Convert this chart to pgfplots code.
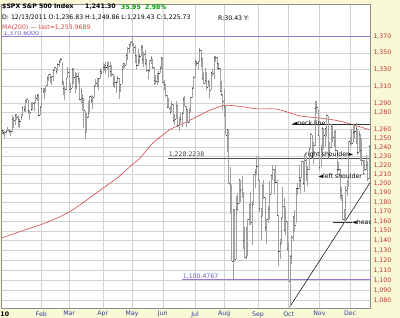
\documentclass[border=0pt]{standalone}
\usepackage{fontspec}
\setmainfont{DejaVu Sans}
\usepackage{pgfplots}
\pgfplotsset{compat=1.18}
\newcommand{\fs}{\fontsize{6.2bp}{7bp}\selectfont}
\newcommand{\fsb}{\fontsize{6.2bp}{7bp}\selectfont\bfseries}
\definecolor{bgy}{RGB}{250,249,214}
\definecolor{framec}{RGB}{140,140,140}
\definecolor{gridc}{RGB}{210,210,210}
\definecolor{barc}{RGB}{160,160,160}
\definecolor{mac}{RGB}{215,70,70}
\definecolor{purp}{RGB}{150,120,205}
\definecolor{purpt}{RGB}{110,90,200}
\definecolor{ylab}{RGB}{190,50,50}
\definecolor{xlab}{RGB}{40,60,160}
\definecolor{grn}{RGB}{0,160,0}
\begin{document}
\begin{tikzpicture}[x=1bp,y=1bp]
\fill[bgy] (0bp,0bp) rectangle (400bp,318bp);
\begin{axis}[
 at={(1bp,10bp)}, anchor=south west, scale only axis, width=369bp, height=304bp,
 ymode=log, xmin=6.4, xmax=258.6, ymin=1072.9, ymax=1411.2,
 axis background/.style={fill=white},
 axis line style={draw=framec, line width=0.6bp},
 major tick length=0, minor tick length=0,
 xtick={34,53,76,96,117,139,159,182,203,224,245},
 xticklabels={Feb,Mar,Apr,May,Jun,Jul,Aug,Sep,Oct,Nov,Dec},
 extra x ticks={9}, extra x tick labels={\textbf{10}},
 extra x tick style={grid=none, xticklabel style={text=black}},
 ytick={1080,1090,1100,1110,1120,1130,1140,1150,1160,1170,1180,1190,1200,1210,1220,1230,1240,1250,1260,1280,1290,1310,1330,1350,1370},
 yticklabels={{1,080},{1,090},{1,100},{1,110},{1,120},{1,130},{1,140},{1,150},{1,160},{1,170},{1,180},{1,190},{1,200},{1,210},{1,220},{1,230},{1,240},{1,250},{1,260},{1,280},{1,290},{1,310},{1,330},{1,350},{1,370}},
 yticklabel pos=right,
 xmajorgrids, ymajorgrids, grid style={gridc, line width=0.5bp},
 tick label style={font=\fs},
 xticklabel style={text=xlab},
 yticklabel style={text=ylab},
 unbounded coords=jump,
 clip mode=global,
]
% 200-day moving average
\addplot[mac, line width=0.6bp, smooth, tension=0.4] coordinates {
(6.4,1142.5) (19.4,1149.3) (35.1,1157.4) (44.7,1163.3) (53.6,1170.3) (65.2,1182.7) (76.1,1195.2) (85.7,1206.1) (94.6,1218.7) (101.4,1228) (110.3,1245) (121.9,1260) (133.6,1269) (147.2,1280.6) (158.9,1287.8) (169.8,1286.5) (181.4,1283.8) (195.1,1283.4) (210.8,1275.7) (224.5,1273.1) (236.1,1270.4) (245,1266.5) (258,1260.0)};
% annotation lines
\addplot[purp, line width=0.8bp] coordinates {(6.4,1370.6) (258.6,1370.6)};
\addplot[purp, line width=0.8bp] coordinates {(130.2,1100.4767) (258.6,1100.4767)};
\addplot[black!70, line width=0.6bp] coordinates {(120.6,1228.2238) (258.6,1228.2238)};
\addplot[black!80, line width=0.5bp] coordinates {(205.3,1266) (258.6,1266)};
\addplot[black!80, line width=0.5bp] coordinates {(233.4,1159) (246.3,1159)};
\addplot[black, line width=0.5bp] coordinates {(203.6,1073.6) (258.6,1200.9)};
% high-low bars
\addplot[barc, line width=0.65bp] coordinates {
(5,1238.0)(5,1248.0)(5,nan) (6,1247.4)(6,1255.0)(6,nan) (7,1255.0)(7,1260.0)(7,nan) (8,1254.0)(8,1259.0)(8,nan) (9,1251.0)(9,1258.0)(9,nan)
(10,1256.0)(10,1260.0)(10,nan) (11,1258.0)(11,1263.0)(11,nan) (12,1256.0)(12,1261.0)(12,nan) (13,1253.0)(13,1260.0)(13,nan)
(14,1257.6)(14,1276.2)(14,nan) (15,1261.7)(15,1274.1)(15,nan) (16,1265.4)(16,1277.6)(16,nan) (17,1270.9)(17,1278.2)(17,nan) (18,1262.7)(18,1276.8)(18,nan)
(19,1262.2)(19,1271.5)(19,nan) (20,1271.3)(20,1277.6)(20,nan) (21,1275.1)(21,1286.9)(21,nan) (22,1280.6)(22,1286.6)(22,nan) (23,1280.3)(23,1293.2)(23,nan)
(24,1290.2)(24,1296.1)(24,nan) (25,1278.2)(25,1294.6)(25,nan) (26,1271.3)(26,1282.0)(26,nan) (27,1281.2)(27,1291.3)(27,nan) (28,1282.1)(28,1291.3)(28,nan)
(29,1281.1)(29,1291.3)(29,nan) (30,1290.5)(30,1299.7)(30,nan) (31,1293.3)(31,1301.0)(31,nan) (32,1275.1)(32,1301.3)(32,nan) (33,1276.3)(33,1287.2)(33,nan)
(34,1286.0)(34,1308.0)(34,nan) (35,1302.6)(35,1307.6)(35,nan) (36,1294.8)(36,1308.6)(36,nan) (37,1302.0)(37,1311.0)(37,nan) (38,1311.0)(38,1322.8)(38,nan)
(39,1316.2)(39,1324.9)(39,nan) (40,1314.3)(40,1324.6)(40,nan) (41,1311.7)(41,1322.0)(41,nan) (42,1316.4)(42,1330.8)(42,nan) (43,1328.1)(43,1332.6)(43,nan)
(44,1324.6)(44,1332.3)(44,nan) (45,1328.0)(45,1337.6)(45,nan) (46,1333.6)(46,1341.0)(46,nan) (47,1338.4)(47,1344.1)(47,nan) (48,1312.2)(48,1338.9)(48,nan)
(49,1299.6)(49,1316.0)(49,nan) (50,1294.3)(50,1310.8)(50,nan) (51,1306.1)(51,1320.2)(51,nan) (52,1319.9)(52,1333.1)(52,nan) (53,1306.3)(53,1332.3)(53,nan)
(54,1302.6)(54,1314.4)(54,nan) (55,1308.4)(55,1332.3)(55,nan) (56,1312.6)(56,1332.0)(56,nan) (57,1302.6)(57,1327.7)(57,nan) (58,1306.9)(58,1325.7)(58,nan)
(59,1314.2)(59,1327.7)(59,nan) (60,1294.7)(60,1320.0)(60,nan) (61,1291.0)(61,1308.4)(61,nan) (62,1282.8)(62,1301.0)(62,nan) (63,1261.9)(63,1296.4)(63,nan)
(64,1249.1)(64,1280.9)(64,nan) (65,1256.9)(65,1278.7)(65,nan) (66,1273.7)(66,1292.5)(66,nan) (67,1279.2)(67,1299.2)(67,nan) (68,1291.0)(68,1299.6)(68,nan)
(69,1283.1)(69,1299.0)(69,nan) (70,1297.5)(70,1311.3)(70,nan) (71,1309.7)(71,1319.2)(71,nan) (72,1310.1)(72,1320.0)(72,nan) (73,1305.3)(73,1319.4)(73,nan)
(74,1319.4)(74,1331.7)(74,nan) (75,1325.0)(75,1329.8)(75,nan) (76,1325.8)(76,1337.9)(76,nan) (77,1328.4)(77,1336.7)(77,nan) (78,1325.0)(78,1339.5)(78,nan)
(79,1330.0)(79,1340.1)(79,nan) (80,1320.0)(80,1338.8)(80,nan) (81,1322.9)(81,1339.5)(81,nan) (82,1321.1)(82,1335.2)(82,nan) (83,1309.7)(83,1324.5)(83,nan)
(84,1307.6)(84,1321.8)(84,nan) (85,1302.6)(85,1316.8)(85,nan) (86,1314.5)(86,1322.9)(86,nan) (87,1294.7)(87,1319.7)(87,nan) (88,1303.9)(88,1312.7)(88,nan)
(89,1312.6)(89,1334.5)(89,nan) (90,1330.4)(90,1337.5)(90,nan) (91,1331.5)(91,1337.5)(91,nan) (92,1335.2)(92,1349.6)(92,nan) (93,1341.9)(93,1357.3)(93,nan)
(94,1350.2)(94,1361.1)(94,nan) (95,1356.8)(95,1364.6)(95,nan) (96,1358.7)(96,1370.6)(96,nan) (97,1348.9)(97,1362.6)(97,nan) (98,1337.8)(98,1359.4)(98,nan)
(99,1331.1)(99,1348.2)(99,nan) (100,1334.6)(100,1354.4)(100,nan) (101,1336.4)(101,1349.4)(101,nan) (102,1346.3)(102,1359.4)(102,nan) (103,1336.4)(103,1359.4)(103,nan)
(104,1333.2)(104,1351.0)(104,nan) (105,1335.6)(105,1353.4)(105,nan) (106,1327.7)(106,1343.3)(106,nan) (107,1318.5)(107,1330.4)(107,nan) (108,1326.6)(108,1341.3)(108,nan)
(109,1336.6)(109,1346.8)(109,nan) (110,1330.7)(110,1342.9)(110,nan) (111,1311.8)(111,1333.3)(111,nan) (112,1313.0)(112,1323.7)(112,nan) (113,1312.1)(113,1325.9)(113,nan)
(114,1314.4)(114,1328.5)(114,nan) (115,1325.7)(115,1334.6)(115,nan) (116,1331.1)(116,1345.2)(116,nan) (117,1313.7)(117,1345.2)(117,nan) (118,1305.6)(118,1318.0)(118,nan)
(119,1297.9)(119,1312.9)(119,nan) (120,1284.9)(120,1300.2)(120,nan) (121,1284.9)(121,1296.2)(121,nan) (122,1277.5)(122,1287.2)(122,nan) (123,1279.6)(123,1292.7)(123,nan)
(124,1268.2)(124,1289.0)(124,nan) (125,1265.6)(125,1277.4)(125,nan) (126,1271.8)(126,1292.5)(126,nan) (127,1262.7)(127,1287.9)(127,nan) (128,1258.1)(128,1274.1)(128,nan)
(129,1267.6)(129,1279.8)(129,nan) (130,1262.7)(130,1280.4)(130,nan) (131,1278.4)(131,1297.6)(131,nan) (132,1286.8)(132,1298.6)(132,nan) (133,1262.7)(133,1286.8)(133,nan)
(134,1267.1)(134,1283.5)(134,nan) (135,1267.1)(135,1284.9)(135,nan) (136,1280.1)(136,1298.0)(136,nan) (137,1296.7)(137,1309.2)(137,nan) (138,1307.4)(138,1321.9)(138,nan)
(139,1320.6)(139,1341.0)(139,nan) (140,1334.3)(140,1340.0)(140,nan) (141,1330.9)(141,1340.0)(141,nan) (142,1339.2)(142,1356.5)(142,nan) (143,1333.1)(143,1353.2)(143,nan)
(144,1318.2)(144,1343.8)(144,nan) (145,1312.4)(145,1327.2)(145,nan) (146,1313.6)(146,1331.5)(146,nan) (147,1306.1)(147,1326.7)(147,nan) (148,1308.9)(148,1317.7)(148,nan)
(149,1295.9)(149,1316.1)(149,nan) (150,1305.4)(150,1327.2)(150,nan) (151,1322.2)(151,1330.7)(151,nan) (152,1319.3)(152,1347.0)(152,nan) (153,1339.0)(153,1346.1)(153,nan)
(154,1331.1)(154,1344.8)(154,nan) (155,1329.6)(155,1338.5)(155,nan) (156,1303.6)(156,1331.9)(156,nan) (157,1299.2)(157,1316.3)(157,nan) (158,1282.9)(158,1300.7)(158,nan)
(159,1274.7)(159,1307.4)(159,nan) (160,1253.9)(160,1286.9)(160,nan) (161,1234.6)(161,1261.0)(161,nan) (162,1199.5)(162,1260.3)(162,nan) (163,1168.1)(163,1218.7)(163,nan)
(164,1119.3)(164,1198.7)(164,nan) (165,1101.5)(165,1172.9)(165,nan) (166,1118.0)(166,1172.6)(166,nan) (167,1121.1)(167,1186.3)(167,nan) (168,1170.7)(168,1189.0)(168,nan)
(169,1178.8)(169,1204.5)(169,nan) (170,1180.5)(170,1204.5)(170,nan) (171,1184.8)(171,1208.5)(171,nan) (172,1131.9)(172,1191.1)(172,nan) (173,1122.1)(173,1154.1)(173,nan)
(174,1121.1)(174,1154.1)(174,nan) (175,1123.8)(175,1162.4)(175,nan) (176,1156.2)(176,1178.5)(176,nan) (177,1155.7)(177,1190.7)(177,nan) (178,1135.3)(178,1181.2)(178,nan)
(179,1176.8)(179,1210.3)(179,nan) (180,1195.3)(180,1216.3)(180,nan) (181,1209.3)(181,1230.7)(181,nan) (182,1202.7)(182,1230.0)(182,nan) (183,1170.2)(183,1204.4)(183,nan)
(184,1140.1)(184,1173.9)(184,nan) (185,1165.2)(185,1198.6)(185,nan) (186,1183.3)(186,1204.5)(186,nan) (187,1150.3)(187,1185.9)(187,nan) (188,1136.1)(188,1162.5)(188,nan)
(189,1158.4)(189,1176.4)(189,nan) (190,1162.7)(190,1202.4)(190,nan) (191,1188.7)(191,1209.1)(191,nan) (192,1204.1)(192,1220.1)(192,nan) (193,1188.4)(193,1216.0)(193,nan)
(194,1201.1)(194,1220.4)(194,nan) (195,1166.6)(195,1204.0)(195,nan) (196,1114.2)(196,1166.8)(196,nan) (197,1121.4)(197,1141.7)(197,nan) (198,1136.4)(198,1164.0)(198,nan)
(199,1163.0)(199,1195.9)(199,nan) (200,1150.9)(200,1184.5)(200,nan) (201,1145.9)(201,1175.4)(201,nan) (202,1130.4)(202,1160.4)(202,nan) (203,1098.9)(203,1138.1)(203,nan)
(204,1074.8)(204,1125.3)(204,nan) (205,1116.1)(205,1146.1)(205,nan) (206,1139.5)(206,1165.0)(206,nan) (207,1148.9)(207,1171.4)(207,nan) (208,1158.1)(208,1195.0)(208,nan)
(209,1187.5)(209,1200.3)(209,nan) (210,1195.6)(210,1220.3)(210,nan) (211,1190.3)(211,1207.5)(211,nan) (212,1206.0)(212,1224.6)(212,nan) (213,1198.5)(213,1224.6)(213,nan)
(214,1191.5)(214,1233.1)(214,nan) (215,1202.8)(215,1229.3)(215,nan) (216,1197.2)(216,1219.4)(216,nan) (217,1215.4)(217,1239.0)(217,nan) (218,1238.3)(218,1256.6)(218,nan)
(219,1227.3)(219,1254.2)(219,nan) (220,1221.1)(220,1246.3)(220,nan) (221,1242.0)(221,1292.7)(221,nan) (222,1277.4)(222,1292.6)(222,nan) (223,1253.3)(223,1284.1)(223,nan)
(224,1215.4)(224,1253.3)(224,nan) (225,1218.3)(225,1242.5)(225,nan) (226,1229.3)(226,1263.2)(226,nan) (227,1238.4)(227,1261.2)(227,nan) (228,1240.8)(228,1261.7)(228,nan)
(229,1251.8)(229,1277.6)(229,nan) (230,1226.6)(230,1275.9)(230,nan) (231,1229.1)(231,1246.3)(231,nan) (232,1239.7)(232,1266.9)(232,nan) (233,1246.3)(233,1263.9)(233,nan)
(234,1240.4)(234,1258.8)(234,nan) (235,1235.5)(235,1259.0)(235,nan) (236,1209.4)(236,1237.1)(236,nan) (237,1213.6)(237,1224.2)(237,nan) (238,1183.5)(238,1215.7)(238,nan)
(239,1181.7)(239,1196.8)(239,nan) (240,1161.8)(240,1188.0)(240,nan) (241,1158.7)(241,1172.7)(241,nan) (242,1158.7)(242,1197.4)(242,nan) (243,1186.4)(243,1203.7)(243,nan)
(244,1196.7)(244,1247.1)(244,nan) (245,1239.0)(245,1251.1)(245,nan) (246,1242.4)(246,1260.1)(246,nan) (247,1244.3)(247,1266.7)(247,nan) (248,1249.0)(248,1264.1)(248,nan)
(249,1243.7)(249,1267.1)(249,nan) (250,1231.5)(250,1260.9)(250,nan) (251,1234.4)(251,1258.3)(251,nan) (252,1225.2)(252,1255.1)(252,nan) (253,1219.4)(253,1249.9)(253,nan)
(254,1209.5)(254,1225.7)(254,nan) (255,1213.6)(255,1225.6)(255,nan) (256,1215.2)(256,1231.0)(256,nan) (257,1202.4)(257,1224.6)(257,nan) (258,1205.5)(258,1242.8)(258,nan)
};
% closing ticks
\addplot[only marks, mark=-, mark size=0.55bp, mark options={xshift=0.55bp, line width=0.45bp, draw=black!70}] coordinates {
(5,1247.1)(6,1254.6)(7,1258.8)(8,1256.8)(9,1257.5)(10,1258.5)(11,1259.8)(12,1257.9)(13,1257.6)
(14,1271.9)(15,1270.2)(16,1276.6)(17,1273.9)(18,1271.5)(19,1269.8)(20,1274.5)(21,1286.0)(22,1283.8)(23,1293.2)
(24,1295.0)(25,1281.9)(26,1280.3)(27,1283.4)(28,1290.8)(29,1291.2)(30,1296.6)(31,1299.5)(32,1276.3)(33,1286.1)
(34,1307.6)(35,1304.0)(36,1307.1)(37,1310.9)(38,1319.1)(39,1324.6)(40,1320.9)(41,1321.9)(42,1329.2)(43,1332.3)
(44,1328.0)(45,1336.3)(46,1340.4)(47,1343.0)(48,1315.4)(49,1307.4)(50,1306.1)(51,1319.9)(52,1327.2)(53,1306.3)
(54,1308.4)(55,1331.0)(56,1321.2)(57,1310.1)(58,1321.8)(59,1320.0)(60,1295.1)(61,1304.3)(62,1296.4)(63,1281.9)
(64,1256.9)(65,1273.7)(66,1279.2)(67,1298.4)(68,1293.8)(69,1297.5)(70,1309.7)(71,1313.8)(72,1310.2)(73,1319.4)
(74,1328.3)(75,1325.8)(76,1332.4)(77,1332.9)(78,1332.6)(79,1335.5)(80,1333.5)(81,1328.2)(82,1324.5)(83,1314.2)
(84,1314.4)(85,1314.5)(86,1319.7)(87,1305.1)(88,1312.6)(89,1330.4)(90,1337.4)(91,1335.3)(92,1347.2)(93,1355.7)
(94,1360.5)(95,1363.6)(96,1361.2)(97,1356.6)(98,1347.3)(99,1335.1)(100,1340.2)(101,1346.3)(102,1357.2)(103,1342.1)
(104,1348.7)(105,1337.8)(106,1329.5)(107,1329.0)(108,1340.7)(109,1343.6)(110,1333.3)(111,1317.4)(112,1316.3)(113,1320.5)
(114,1325.7)(115,1331.1)(116,1345.2)(117,1314.6)(118,1312.9)(119,1300.2)(120,1286.2)(121,1284.9)(122,1279.6)(123,1289.0)
(124,1271.0)(125,1271.8)(126,1287.9)(127,1265.4)(128,1267.6)(129,1271.5)(130,1278.4)(131,1295.5)(132,1287.1)(133,1283.5)
(134,1268.5)(135,1280.1)(136,1296.7)(137,1307.4)(138,1320.6)(139,1339.7)(140,1337.9)(141,1339.2)(142,1353.2)(143,1343.8)
(144,1319.5)(145,1313.6)(146,1317.7)(147,1308.9)(148,1316.1)(149,1305.4)(150,1326.7)(151,1325.8)(152,1343.8)(153,1345.0)
(154,1337.4)(155,1331.9)(156,1304.9)(157,1300.7)(158,1292.3)(159,1286.9)(160,1254.1)(161,1260.3)(162,1200.1)(163,1199.4)
(164,1119.5)(165,1172.5)(166,1120.8)(167,1172.6)(168,1178.8)(169,1204.5)(170,1192.8)(171,1193.9)(172,1140.7)(173,1123.5)
(174,1123.8)(175,1162.4)(176,1177.6)(177,1159.3)(178,1176.8)(179,1210.1)(180,1212.9)(181,1218.9)(182,1204.4)(183,1174.0)
(184,1165.2)(185,1198.6)(186,1185.9)(187,1154.2)(188,1162.3)(189,1172.9)(190,1188.7)(191,1209.1)(192,1216.0)(193,1204.1)
(194,1202.1)(195,1166.8)(196,1129.6)(197,1136.4)(198,1163.0)(199,1175.4)(200,1151.1)(201,1160.4)(202,1131.4)(203,1099.2)
(204,1124.0)(205,1144.0)(206,1165.0)(207,1155.5)(208,1194.9)(209,1195.5)(210,1207.3)(211,1203.7)(212,1224.6)(213,1200.9)
(214,1225.4)(215,1209.9)(216,1215.4)(217,1238.3)(218,1254.2)(219,1229.1)(220,1242.0)(221,1284.6)(222,1285.1)(223,1253.3)
(224,1218.3)(225,1237.9)(226,1261.2)(227,1253.2)(228,1261.1)(229,1275.9)(230,1229.1)(231,1239.7)(232,1263.9)(233,1251.8)
(234,1257.8)(235,1236.9)(236,1216.1)(237,1215.7)(238,1193.0)(239,1188.0)(240,1161.8)(241,1158.7)(242,1192.6)(243,1195.2)
(244,1247.0)(245,1244.6)(246,1244.3)(247,1257.1)(248,1258.5)(249,1261.0)(250,1234.4)(251,1255.2)(252,1236.5)(253,1225.7)
(254,1211.8)(255,1215.8)(256,1219.7)(257,1205.4)(258,1241.3)
};
% labels
\node[anchor=south west, inner sep=0.3bp, font=\fs, text=purpt] at (axis cs:7.8,1370.6) {1,370.6000};
\node[anchor=south west, inner sep=0.5bp, font=\fs, text=purpt] at (axis cs:130.2,1100.4767) {1,100.4767};
\node[anchor=south west, inner sep=0.5bp, font=\fs, text=black!75] at (axis cs:120.6,1228.2238) {1,228.2238};
\node[anchor=west, inner sep=0, font=\fs] at (axis cs:205.6,1267.5) {◄neck line};
\node[anchor=west, inner sep=0, font=\fs] at (axis cs:214.2,1231.6) {right shoulder►};
\node[anchor=west, inner sep=0, font=\fs] at (axis cs:223.1,1208.5) {◄left shoulder};
\node[anchor=west, inner sep=0, font=\fs] at (axis cs:246.3,1159.5) {◄head};
\end{axis}
% header
\node[anchor=west, inner sep=0, font=\fsb] at (2bp,311bp) {\$SPX S\&P 500 Index};
\node[anchor=west, inner sep=0, font=\fsb] at (85bp,311bp) {1,241.30};
\node[anchor=west, inner sep=0, font=\fsb, text=grn] at (121bp,311bp) {35.95};
\node[anchor=west, inner sep=0, font=\fsb, text=grn] at (145bp,311bp) {2.98\%};
\node[anchor=west, inner sep=0, font=\fs] at (2bp,300bp) {D: 12/13/2011 O:1,236.83 H:1,249.86 L:1,219.43 C:1,225.73};
\node[anchor=west, inner sep=0, font=\fs] at (218bp,300bp) {R:30.43 Y:};
\node[anchor=west, inner sep=0.4bp, fill=white, font=\fs, text=mac] at (1.6bp,290bp) {MA(200) — last=1,259.9689};
\pgfresetboundingbox
\useasboundingbox (0bp,0bp) rectangle (400bp,318bp);
\end{tikzpicture}
\end{document}
